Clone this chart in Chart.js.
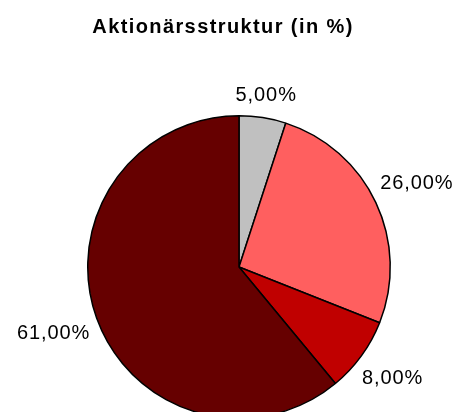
<!DOCTYPE html>
<html>
<head>
<meta charset="utf-8">
<script src="https://cdn.jsdelivr.net/npm/chart.js@4"></script>
<style>
  html, body { margin: 0; padding: 0; background: #fff; overflow: hidden; }
  canvas { display: block; }
</style>
</head>
<body>
<canvas id="PieChart" width="462" height="419"></canvas>
<script>
// data
const chartTitle = "Aktionärsstruktur (in %)";
const categories = ["Anteil 1", "Anteil 2", "Anteil 3", "Anteil 4"];
const shares = [5, 26, 8, 61];
const sliceColors = ["#C0C0C0", "#FF5F5F", "#C00000", "#660000"];

const fontFamily = "'Liberation Sans', Arial, sans-serif";

// title + outside labels (Excel style, comma decimals)
const labelPlugin = {
    id: "pieLabels",
    afterDraw(chart) {
        const ctx = chart.ctx;
        ctx.save();
        ctx.fillStyle = "#000";
        ctx.textBaseline = "middle";
        ctx.textAlign = "center";

        ctx.font = "bold 20px " + fontFamily;
        ctx.letterSpacing = "1.4px";
        ctx.fillText(chartTitle, 223, 27);

        ctx.font = "20px " + fontFamily;
        ctx.letterSpacing = "0.9px";
        const meta = chart.getDatasetMeta(0);
        meta.data.forEach((arc, i) => {
            const p = arc.getProps(["x", "y", "startAngle", "endAngle", "outerRadius"], true);
            const mid = (p.startAngle + p.endAngle) / 2;
            const text = shares[i].toFixed(2).replace(".", ",") + "%";
            const w = ctx.measureText(text).width;
            const h = 20;
            const dx = Math.cos(mid), dy = Math.sin(mid);
            const dist = p.outerRadius + 8 + Math.abs(dx) * w / 2 + Math.abs(dy) * h / 2;
            ctx.fillText(text, p.x + dx * dist, p.y + dy * dist);
        });
        ctx.restore();
    }
};

const ctx = document.getElementById("PieChart").getContext("2d");

new Chart(ctx, {
    type: "pie",
    data: {
        labels: categories,
        datasets: [{
            data: shares,
            backgroundColor: sliceColors,
            borderColor: "#000",
            borderWidth: 1.5
        }]
    },
    options: {
        responsive: false,
        animation: false,
        layout: { padding: { left: 87, right: 71, top: 115, bottom: 0 } },
        plugins: {
            legend: { display: false },
            title: { display: false },
            tooltip: { enabled: false }
        }
    },
    plugins: [labelPlugin]
});
</script>
</body>
</html>
